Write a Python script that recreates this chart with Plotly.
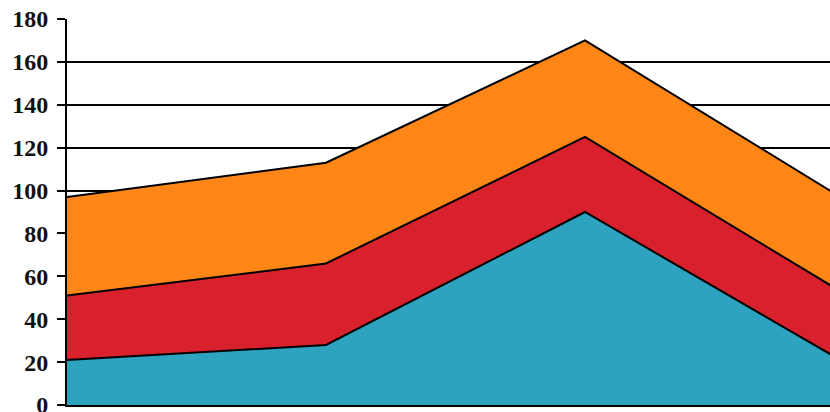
import plotly.graph_objects as go

categories = [0, 1, 2, 3]
series_blue = [21, 28, 90, 20]
series_red = [30, 38, 35, 32]
series_orange = [46, 47, 45, 44]
y_ticks = [0, 20, 40, 60, 80, 100, 120, 140, 160, 180]

colors = ["#2EA3C0", "#D9202D", "#FD8617"]

fig = go.Figure()
for vals, col in zip([series_blue, series_red, series_orange], colors):
    fig.add_trace(go.Scatter(
        x=categories, y=vals, mode="lines", stackgroup="one",
        line=dict(color="black", width=2), fillcolor=col,
        showlegend=False, hoverinfo="skip"))

fig.update_layout(
    width=830, height=412,
    margin=dict(l=67, r=0, t=19, b=7),
    plot_bgcolor="white", paper_bgcolor="white",
    font=dict(family="Liberation Serif", size=24, color="#111"),
)
fig.update_xaxes(range=[0, 2.946], showticklabels=False, showgrid=False,
                 zeroline=False, showline=True, linecolor="black", linewidth=1.5,
                 ticks="", automargin=False)
fig.update_yaxes(range=[0, 180], tickvals=y_ticks, showgrid=True,
                 gridcolor="black", gridwidth=1.5, zeroline=False,
                 showline=True, linecolor="black", linewidth=2,
                 ticks="outside", ticklen=8, tickcolor="black", tickwidth=1.5,
                 tickfont=dict(family="Liberation Serif", size=24, weight="bold"),
                 ticklabeloverflow="allow", ticklabelstandoff=4, automargin=False)

fig.write_html("out.html")
